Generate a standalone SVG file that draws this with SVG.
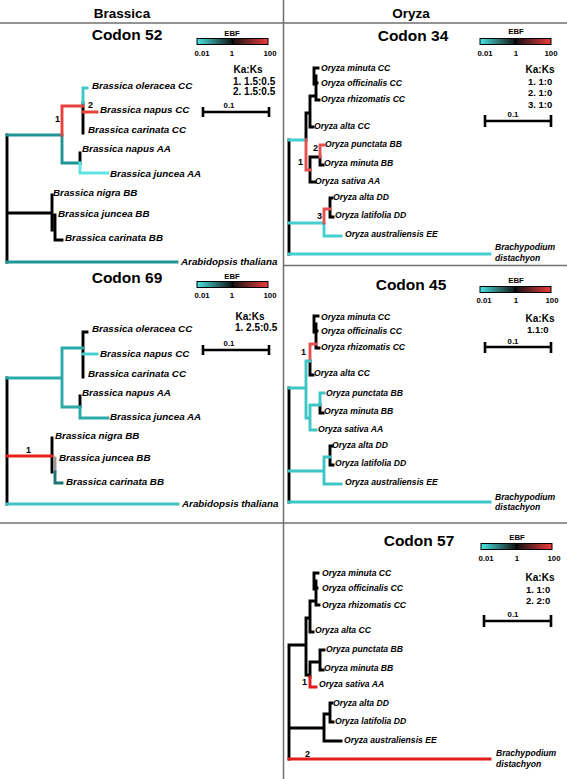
<svg xmlns="http://www.w3.org/2000/svg" width="567" height="779" viewBox="0 0 567 779">
<defs>
<linearGradient id="ebf" x1="0" y1="0" x2="1" y2="0">
<stop offset="0" stop-color="#4ae4e4"/>
<stop offset="0.5" stop-color="#111111"/>
<stop offset="1" stop-color="#f03c3c"/>
</linearGradient>
</defs>
<style>
text{font-family:"Liberation Sans",Arial,sans-serif;fill:#000;font-weight:bold}
.sep{stroke:#707070;stroke-width:1.5;fill:none}
.br{fill:none;stroke-width:2.9;stroke-linecap:square;stroke-linejoin:miter}
.k{stroke:#000}
.hdr{font-size:13.5px;text-anchor:middle}
.ttl{font-size:15.5px;text-anchor:middle}
.lb{font-size:9.8px;font-style:italic}
.lo{font-size:8.6px;font-style:italic}
.eb{font-size:7.8px;text-anchor:middle}
.ka{font-size:10px}
.kao{font-size:9.5px}
.num{font-size:9px}
.bar{stroke:#000;stroke-width:1;fill:url(#ebf)}
.tick{stroke:#000;stroke-width:1.5}
.sc{stroke:#000;stroke-width:2.6;fill:none}
</style>
<rect width="567" height="779" fill="#fff"/>

<g id="frame">
<path class="sep" d="M283.5,0 V779 M0,23 H567 M283.5,265.5 H567 M0,523 H567"/>
<text class="hdr" x="122" y="18">Brassica</text>
<text class="hdr" x="411" y="18">Oryza</text>
</g>

<!-- ===== Brassica Codon 52 ===== -->
<g id="codon52">
<text class="ttl" x="127" y="40">Codon 52</text>
<g id="c52-legend">
<text class="eb" x="232" y="36">EBF</text>
<rect class="bar" x="197" y="38.5" width="71" height="6"/>
<path class="tick" d="M232.5,38.5 V44.5"/>
<text class="eb" x="202" y="56">0.01</text>
<text class="eb" x="232" y="56">1</text>
<text class="eb" x="270" y="56">100</text>
</g>
<g id="c52-kaks">
<text class="ka" x="248" y="73" text-anchor="middle">Ka:Ks</text>
<text class="ka" x="233" y="85">1. 1.5:0.5</text>
<text class="ka" x="233" y="95">2. 1.5:0.5</text>
</g>
<g id="c52-scale">
<path class="sc" d="M203,112 H269 M203,107 V117 M269,107 V117"/>
<text class="eb" x="229" y="108">0.1</text>
</g>
<g id="c52-connectors">
<path class="br k" d="M7,135 V262 M7,213 H52 M52,195 V230 M55,215 V240 H62 M83,103 V133 M80,153 V163"/>
<path class="br" stroke="#219595" d="M7,135 H62 V163 H80 M7,262 H177"/>
<path class="br" stroke="#e8403a" d="M62,135 V106 H83 M83,112 H97"/>
<path class="br" stroke="#3ec9c9" d="M83,103 V88 H87"/>
<path class="br" stroke="#5fe3e3" d="M80,163 V173 H108"/>
<text class="num" x="55" y="122">1</text>
<text class="num" x="88" y="108">2</text>
</g>
<g id="c52-leaves">
<text id="c52-bol" class="lb" x="92" y="89">Brassica oleracea CC</text>
<text id="c52-bnc" class="lb" x="100" y="113">Brassica napus CC</text>
<text id="c52-bcc" class="lb" x="88" y="133">Brassica carinata CC</text>
<text id="c52-bna" class="lb" x="82" y="152">Brassica napus AA</text>
<text id="c52-bja" class="lb" x="110" y="177">Brassica juncea AA</text>
<text id="c52-bni" class="lb" x="53" y="196">Brassica nigra BB</text>
<text id="c52-bjb" class="lb" x="58" y="217">Brassica juncea BB</text>
<text id="c52-bcb" class="lb" x="65" y="241">Brassica carinata BB</text>
<text id="c52-ath" class="lb" x="181" y="265">Arabidopsis thaliana</text>
</g>
</g>

<!-- ===== Brassica Codon 69 ===== -->
<g id="codon69">
<text class="ttl" x="127" y="283">Codon 69</text>
<g id="c69-legend">
<text class="eb" x="232" y="279">EBF</text>
<rect class="bar" x="197" y="281.5" width="71" height="6"/>
<path class="tick" d="M232.5,281.5 V287.5"/>
<text class="eb" x="202" y="298">0.01</text>
<text class="eb" x="232" y="298">1</text>
<text class="eb" x="270" y="298">100</text>
</g>
<g id="c69-kaks">
<text class="ka" x="250" y="320" text-anchor="middle">Ka:Ks</text>
<text class="ka" x="235" y="331">1. 2.5:0.5</text>
</g>
<g id="c69-scale">
<path class="sc" d="M203,350 H269 M203,345 V355 M269,345 V355"/>
<text class="eb" x="229" y="346">0.1</text>
</g>
<g id="c69-connectors">
<path class="br k" d="M7,378 V504 M83,332 V377 M83,332 H87 M80,396 V407 M52,438 V472"/>
<path class="br" stroke="#2ba9a9" d="M7,378 H62 V407 H80 V418 H108 M62,378 V348 H83"/>
<path class="br" stroke="#40d0d0" d="M83,354 H97"/>
<path class="br" stroke="#e82020" d="M7,456 H52"/>
<path class="br" stroke="#9a9a9a" d="M55,458 V472"/>
<path class="br" stroke="#1f7474" d="M55,472 V483 H62"/>
<path class="br" stroke="#41c3c3" d="M7,504 H178"/>
<text class="num" x="26" y="453">1</text>
</g>
<g id="c69-leaves">
<text id="c69-bol" class="lb" x="92" y="332">Brassica oleracea CC</text>
<text id="c69-bnc" class="lb" x="100" y="357">Brassica napus CC</text>
<text id="c69-bcc" class="lb" x="88" y="377">Brassica carinata CC</text>
<text id="c69-bna" class="lb" x="82" y="396">Brassica napus AA</text>
<text id="c69-bja" class="lb" x="110" y="420">Brassica juncea AA</text>
<text id="c69-bni" class="lb" x="55" y="439">Brassica nigra BB</text>
<text id="c69-bjb" class="lb" x="59" y="461">Brassica juncea BB</text>
<text id="c69-bcb" class="lb" x="66" y="485">Brassica carinata BB</text>
<text id="c69-ath" class="lb" x="182" y="507">Arabidopsis thaliana</text>
</g>
</g>

<!-- ===== Oryza Codon 34 ===== -->
<g id="codon34">
<text class="ttl" x="413" y="41">Codon 34</text>
<g id="c34-legend">
<text class="eb" x="516" y="34">EBF</text>
<rect class="bar" x="480" y="38.5" width="71" height="6"/>
<path class="tick" d="M515.5,38.5 V44.5"/>
<text class="eb" x="485" y="56">0.01</text>
<text class="eb" x="516" y="56">1</text>
<text class="eb" x="551" y="56">100</text>
</g>
<g id="c34-kaks">
<text class="ka" x="540" y="73" text-anchor="middle">Ka:Ks</text>
<text class="kao" x="528" y="85">1. 1:0</text>
<text class="kao" x="528" y="96">2. 1:0</text>
<text class="kao" x="528" y="108">3. 1:0</text>
</g>
<g id="c34-scale">
<path class="sc" d="M485,121 H551 M485,115 V127 M551,115 V127"/>
<text class="eb" x="513" y="117">0.1</text>
</g>
<g id="c34-connectors">
<path class="br k" d="M289,140 V254 M306,140 V113 H310 M310,96 V127 H313 M310,96 H316 M316,76 V100 H319 M314,68 V84 M314,68 H318 M314,83 H317 M314,76 H316 M310,157 V182 H315 M310,157 H320 M320,157 V165 H323 M330,198 V217 H333 M330,198 H332"/>
<path class="br" stroke="#45cfd0" d="M289,140 H306 M289,223 H324 V236 H341 M289,254 H490"/>
<path class="br" stroke="#e55050" d="M306,140 V170 H310 M320,157 V145 H324 M324,223 V209 H330"/>
<text class="num" x="298" y="165">1</text>
<text class="num" x="313" y="151">2</text>
<text class="num" x="317" y="219">3</text>
</g>
<g id="c34-leaves">
<text id="c34-omc" class="lo" x="321" y="71">Oryza minuta CC</text>
<text id="c34-ooc" class="lo" x="321" y="86">Oryza officinalis CC</text>
<text id="c34-orc" class="lo" x="321" y="102">Oryza rhizomatis CC</text>
<text id="c34-oac" class="lo" x="314" y="129">Oryza alta CC</text>
<text id="c34-opb" class="lo" x="325" y="147">Oryza punctata BB</text>
<text id="c34-omb" class="lo" x="324" y="166">Oryza minuta BB</text>
<text id="c34-osa" class="lo" x="315" y="184">Oryza sativa AA</text>
<text id="c34-oad" class="lo" x="333" y="200">Oryza alta DD</text>
<text id="c34-old" class="lo" x="335" y="218">Oryza latifolia DD</text>
<text id="c34-oae" class="lo" x="345" y="237">Oryza australiensis EE</text>
<text id="c34-bd1" class="lo" x="495" y="250">Brachypodium</text>
<text id="c34-bd2" class="lo" x="495" y="261">distachyon</text>
</g>
</g>

<!-- ===== Oryza Codon 45 ===== -->
<g id="codon45">
<text class="ttl" x="411" y="290">Codon 45</text>
<g id="c45-legend">
<text class="eb" x="516" y="283">EBF</text>
<rect class="bar" x="480" y="286.5" width="71" height="6"/>
<path class="tick" d="M515.5,286.5 V292.5"/>
<text class="eb" x="484" y="303">0.01</text>
<text class="eb" x="516" y="303">1</text>
<text class="eb" x="552" y="303">100</text>
</g>
<g id="c45-kaks">
<text class="ka" x="540" y="322" text-anchor="middle">Ka:Ks</text>
<text class="kao" x="527" y="333">1.1:0</text>
</g>
<g id="c45-scale">
<path class="sc" d="M485,347 H551 M485,342 V353 M551,342 V353"/>
<text class="eb" x="513" y="344">0.1</text>
</g>
<g id="c45-connectors">
<path class="br k" d="M289,388 V502 M310,361 V375 H313 M316,324 V348 H319 M314,316 V332 M314,316 H318 M314,331 H317 M314,324 H316 M320,405 V413 H323 M330,446 V465 H333 M330,446 H332"/>
<path class="br" stroke="#e55050" d="M310,361 V344 H316"/>
<path class="br" stroke="#3ec6c6" d="M289,388 H306 M306,388 V361 H310 M306,388 V418 H310 M310,405 V430 H316 M310,405 H320 V393 H324 M289,471 H324 V484 H341 M324,471 V457 H330 M289,502 H490"/>
<text class="num" x="301" y="355">1</text>
</g>
<g id="c45-leaves">
<text id="c45-omc" class="lo" x="321" y="320">Oryza minuta CC</text>
<text id="c45-ooc" class="lo" x="321" y="334">Oryza officinalis CC</text>
<text id="c45-orc" class="lo" x="321" y="350">Oryza rhizomatis CC</text>
<text id="c45-oac" class="lo" x="314" y="376">Oryza alta CC</text>
<text id="c45-opb" class="lo" x="326" y="396">Oryza punctata BB</text>
<text id="c45-omb" class="lo" x="324" y="414">Oryza minuta BB</text>
<text id="c45-osa" class="lo" x="318" y="432">Oryza sativa AA</text>
<text id="c45-oad" class="lo" x="332" y="448">Oryza alta DD</text>
<text id="c45-old" class="lo" x="335" y="466">Oryza latifolia DD</text>
<text id="c45-oae" class="lo" x="345" y="485">Oryza australiensis EE</text>
<text id="c45-bd1" class="lo" x="495" y="500">Brachypodium</text>
<text id="c45-bd2" class="lo" x="495" y="510">distachyon</text>
</g>
</g>

<!-- ===== Oryza Codon 57 ===== -->
<g id="codon57">
<text class="ttl" x="419" y="546">Codon 57</text>
<g id="c57-legend">
<text class="eb" x="517" y="540">EBF</text>
<rect class="bar" x="481" y="543.5" width="71" height="6"/>
<path class="tick" d="M516.5,543.5 V549.5"/>
<text class="eb" x="486" y="561">0.01</text>
<text class="eb" x="517" y="561">1</text>
<text class="eb" x="554" y="561">100</text>
</g>
<g id="c57-kaks">
<text class="ka" x="540" y="581" text-anchor="middle">Ka:Ks</text>
<text class="kao" x="526" y="593">1. 1:0</text>
<text class="kao" x="526" y="604">2. 2:0</text>
</g>
<g id="c57-scale">
<path class="sc" d="M484,621 H551 M484,615 V627 M551,615 V627"/>
<text class="eb" x="513" y="617">0.1</text>
</g>
<g id="c57-connectors">
<path class="br k" d="M289,645 V759 M289,645 H306 M306,618 V675 H310 M306,618 H310 M310,601 V632 H313 M310,601 H316 M316,581 V605 H319 M314,573 V589 M314,573 H318 M314,588 H317 M314,581 H316 M310,662 V677 M310,662 H320 M320,650 V670 H323 M320,650 H324 M289,728 H324 V741 H341 M324,728 V714 H330 M330,703 V722 H333 M330,703 H332"/>
<path class="br" stroke="#e41b1b" d="M310,677 V687 H316 M289,759 H490"/>
<text class="num" x="302" y="685">1</text>
<text class="num" x="305" y="757">2</text>
</g>
<g id="c57-leaves">
<text id="c57-omc" class="lo" x="322" y="576">Oryza minuta CC</text>
<text id="c57-ooc" class="lo" x="322" y="591">Oryza officinalis CC</text>
<text id="c57-orc" class="lo" x="322" y="608">Oryza rhizomatis CC</text>
<text id="c57-oac" class="lo" x="315" y="633">Oryza alta CC</text>
<text id="c57-opb" class="lo" x="326" y="652">Oryza punctata BB</text>
<text id="c57-omb" class="lo" x="324" y="671">Oryza minuta BB</text>
<text id="c57-osa" class="lo" x="319" y="687">Oryza sativa AA</text>
<text id="c57-oad" class="lo" x="333" y="706">Oryza alta DD</text>
<text id="c57-old" class="lo" x="335" y="724">Oryza latifolia DD</text>
<text id="c57-oae" class="lo" x="344" y="743">Oryza australiensis EE</text>
<text id="c57-bd1" class="lo" x="496" y="756">Brachypodium</text>
<text id="c57-bd2" class="lo" x="496" y="767">distachyon</text>
</g>
</g>
</svg>
